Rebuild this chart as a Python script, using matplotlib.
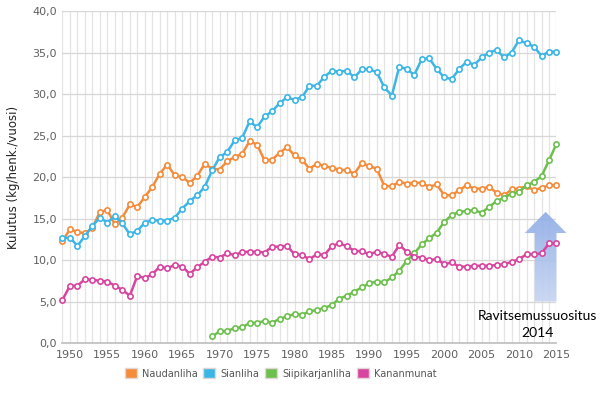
import numpy as np
import matplotlib
matplotlib.use("Agg")
import matplotlib.pyplot as plt
from matplotlib.patches import Patch, FancyArrow
from matplotlib.colors import LinearSegmentedColormap
from matplotlib.ticker import FuncFormatter, MultipleLocator


years = list(range(1949, 2016))

naudanliha = [12.3, 13.7, 13.4, 13.2, 13.9, 15.8, 16.0, 14.3, 15.1, 16.7,
              16.4, 17.6, 18.8, 20.4, 21.5, 20.2, 20.0, 19.3, 20.1, 21.6,
              21.0, 20.9, 21.9, 22.4, 22.8, 24.3, 23.9, 22.0, 22.1, 22.9,
              23.6, 22.6, 22.1, 21.0, 21.6, 21.3, 21.1, 20.9, 20.8, 20.4,
              21.7, 21.3, 21.0, 18.9, 18.9, 19.4, 19.2, 19.3, 19.3, 18.8,
              19.1, 17.8, 17.8, 18.4, 19.0, 18.6, 18.6, 18.8, 18.1, 17.8,
              18.5, 18.6, 18.9, 18.4, 18.7, 19.0, 19.0]

sianliha = [12.6, 12.7, 11.7, 12.9, 14.1, 15.1, 14.5, 15.3, 14.4, 13.1,
            13.5, 14.5, 14.8, 14.75, 14.75, 15.1, 16.2, 17.1, 17.8, 18.8,
            20.8, 22.4, 23.0, 24.4, 24.7, 26.7, 26.0, 27.3, 27.9, 28.9,
            29.6, 29.3, 29.6, 31.0, 31.0, 32.1, 32.8, 32.7, 32.8, 32.0,
            33.0, 33.0, 32.6, 30.8, 29.8, 33.3, 33.0, 32.3, 34.2, 34.3,
            33.0, 32.0, 31.8, 33.0, 33.9, 33.5, 34.4, 35.0, 35.3, 34.4,
            35.0, 36.5, 36.1, 35.7, 34.6, 35.1, 35.1]

siipi_years = list(range(1969, 2016))
siipikarjanliha = [0.8, 1.4, 1.45, 1.8, 1.9, 2.4, 2.45, 2.65, 2.45, 2.9,
                   3.2, 3.5, 3.4, 3.8, 4.0, 4.2, 4.6, 5.35, 5.7, 6.2,
                   6.7, 7.2, 7.4, 7.3, 7.9, 8.7, 9.9, 10.8, 11.9, 12.6,
                   13.3, 14.6, 15.4, 15.8, 15.9, 16.0, 15.7, 16.4, 17.1, 17.5,
                   18.0, 18.2, 19.0, 19.4, 20.1, 22.0, 24.0]

kananmunat = [5.2, 6.9, 6.9, 7.7, 7.6, 7.5, 7.4, 6.9, 6.4, 5.7,
              8.1, 7.8, 8.3, 9.2, 9.0, 9.4, 9.2, 8.35, 9.1, 9.8,
              10.4, 10.3, 10.8, 10.6, 10.95, 11.0, 11.0, 10.9, 11.6, 11.6,
              11.7, 10.7, 10.6, 10.1, 10.7, 10.6, 11.7, 12.0, 11.65, 11.1,
              11.05, 10.7, 11.0, 10.7, 10.4, 11.8, 11.0, 10.4, 10.3, 10.0,
              10.1, 9.5, 9.7, 9.2, 9.2, 9.3, 9.3, 9.3, 9.4, 9.5,
              9.76, 10.1, 10.7, 10.7, 10.8, 12.0, 12.0]

series_names = ["Naudanliha", "Sianliha", "Siipikarjanliha", "Kananmunat"]
series_colors = ["#F58C3C", "#3CB6E6", "#6DC04E", "#D8459E"]

# arrow: recommendation 2014
ARROW_X = 2013.55
ARROW_Y0, ARROW_Y1 = 5.0, 15.8


fig = plt.figure(figsize=(6.06, 3.93), dpi=100)
ax = fig.add_axes([0.1031, 0.1272, 0.9183 - 0.1031, 0.972 - 0.1272])

# grid
for yr in years:
    ax.axvline(yr, color="#e4e4e4", lw=0.9, zorder=0)
for v in range(5, 41, 5):
    ax.axhline(v, color="#d6d6d6", lw=0.9, zorder=0.5)
ax.axhline(0, color="#bdbdbd", lw=1.2, zorder=0.6, clip_on=False)

for s in ax.spines.values():
    s.set_visible(False)

all_x = [years, years, siipi_years, years]
all_y = [naudanliha, sianliha, siipikarjanliha, kananmunat]
for xs, ys, col in zip(all_x, all_y, series_colors):
    ax.plot(xs, ys, color=col, lw=1.8, marker="o", markersize=3.8,
            markerfacecolor="white", markeredgecolor=col, markeredgewidth=1.2,
            zorder=3, clip_on=False)

# arrow with a soft vertical gradient
arrow = FancyArrow(ARROW_X, ARROW_Y0, 0, ARROW_Y1 - ARROW_Y0, width=2.9,
                   head_width=5.57, head_length=2.55, length_includes_head=True,
                   facecolor="none", edgecolor="none", zorder=2, clip_on=False)
ax.add_patch(arrow)
cmap = LinearSegmentedColormap.from_list("arr", ["#c6d4f2", "#a9c0ec", "#8eabe6"])
grad = np.linspace(0, 1, 100).reshape(-1, 1)
im = ax.imshow(grad, extent=[ARROW_X - 3, ARROW_X + 3, ARROW_Y0, ARROW_Y1],
               origin="lower", aspect="auto", cmap=cmap, alpha=0.9, zorder=2)
im.set_clip_box(fig.bbox)
im.set_clip_path(arrow)

ax.set_xlim(1949, 2015)
ax.set_ylim(0, 40)

ax.text(2012.4, 2.2, "Ravitsemussuositus\n2014", ha="center", va="center",
        fontsize=10, family="Lato", color="black", linespacing=1.5, zorder=5)

ax.set_xticks(range(1950, 2016, 5))
ax.yaxis.set_major_locator(MultipleLocator(5))
ax.yaxis.set_major_formatter(FuncFormatter(lambda v, p: ("%.1f" % v).replace(".", ",")))
ax.tick_params(axis="both", length=0, labelsize=8, labelcolor="#606060")
ax.tick_params(axis="y", pad=4)
ax.tick_params(axis="x", pad=5)

ax.set_ylabel("Kulutus (kg/henk./vuosi)", fontsize=8.5, color="#222222", labelpad=9)

handles = [Patch(facecolor=c, edgecolor="#e3d6d6", linewidth=1.0) for c in series_colors]
fig.legend(handles, series_names, loc="center", bbox_to_anchor=(0.463, 0.05),
           ncol=4, frameon=False, fontsize=7, labelcolor="#555555",
           handlelength=1.25, handleheight=1.25, handletextpad=0.5,
           columnspacing=0.6, borderaxespad=0)

fig.savefig("out.png", dpi=100)
